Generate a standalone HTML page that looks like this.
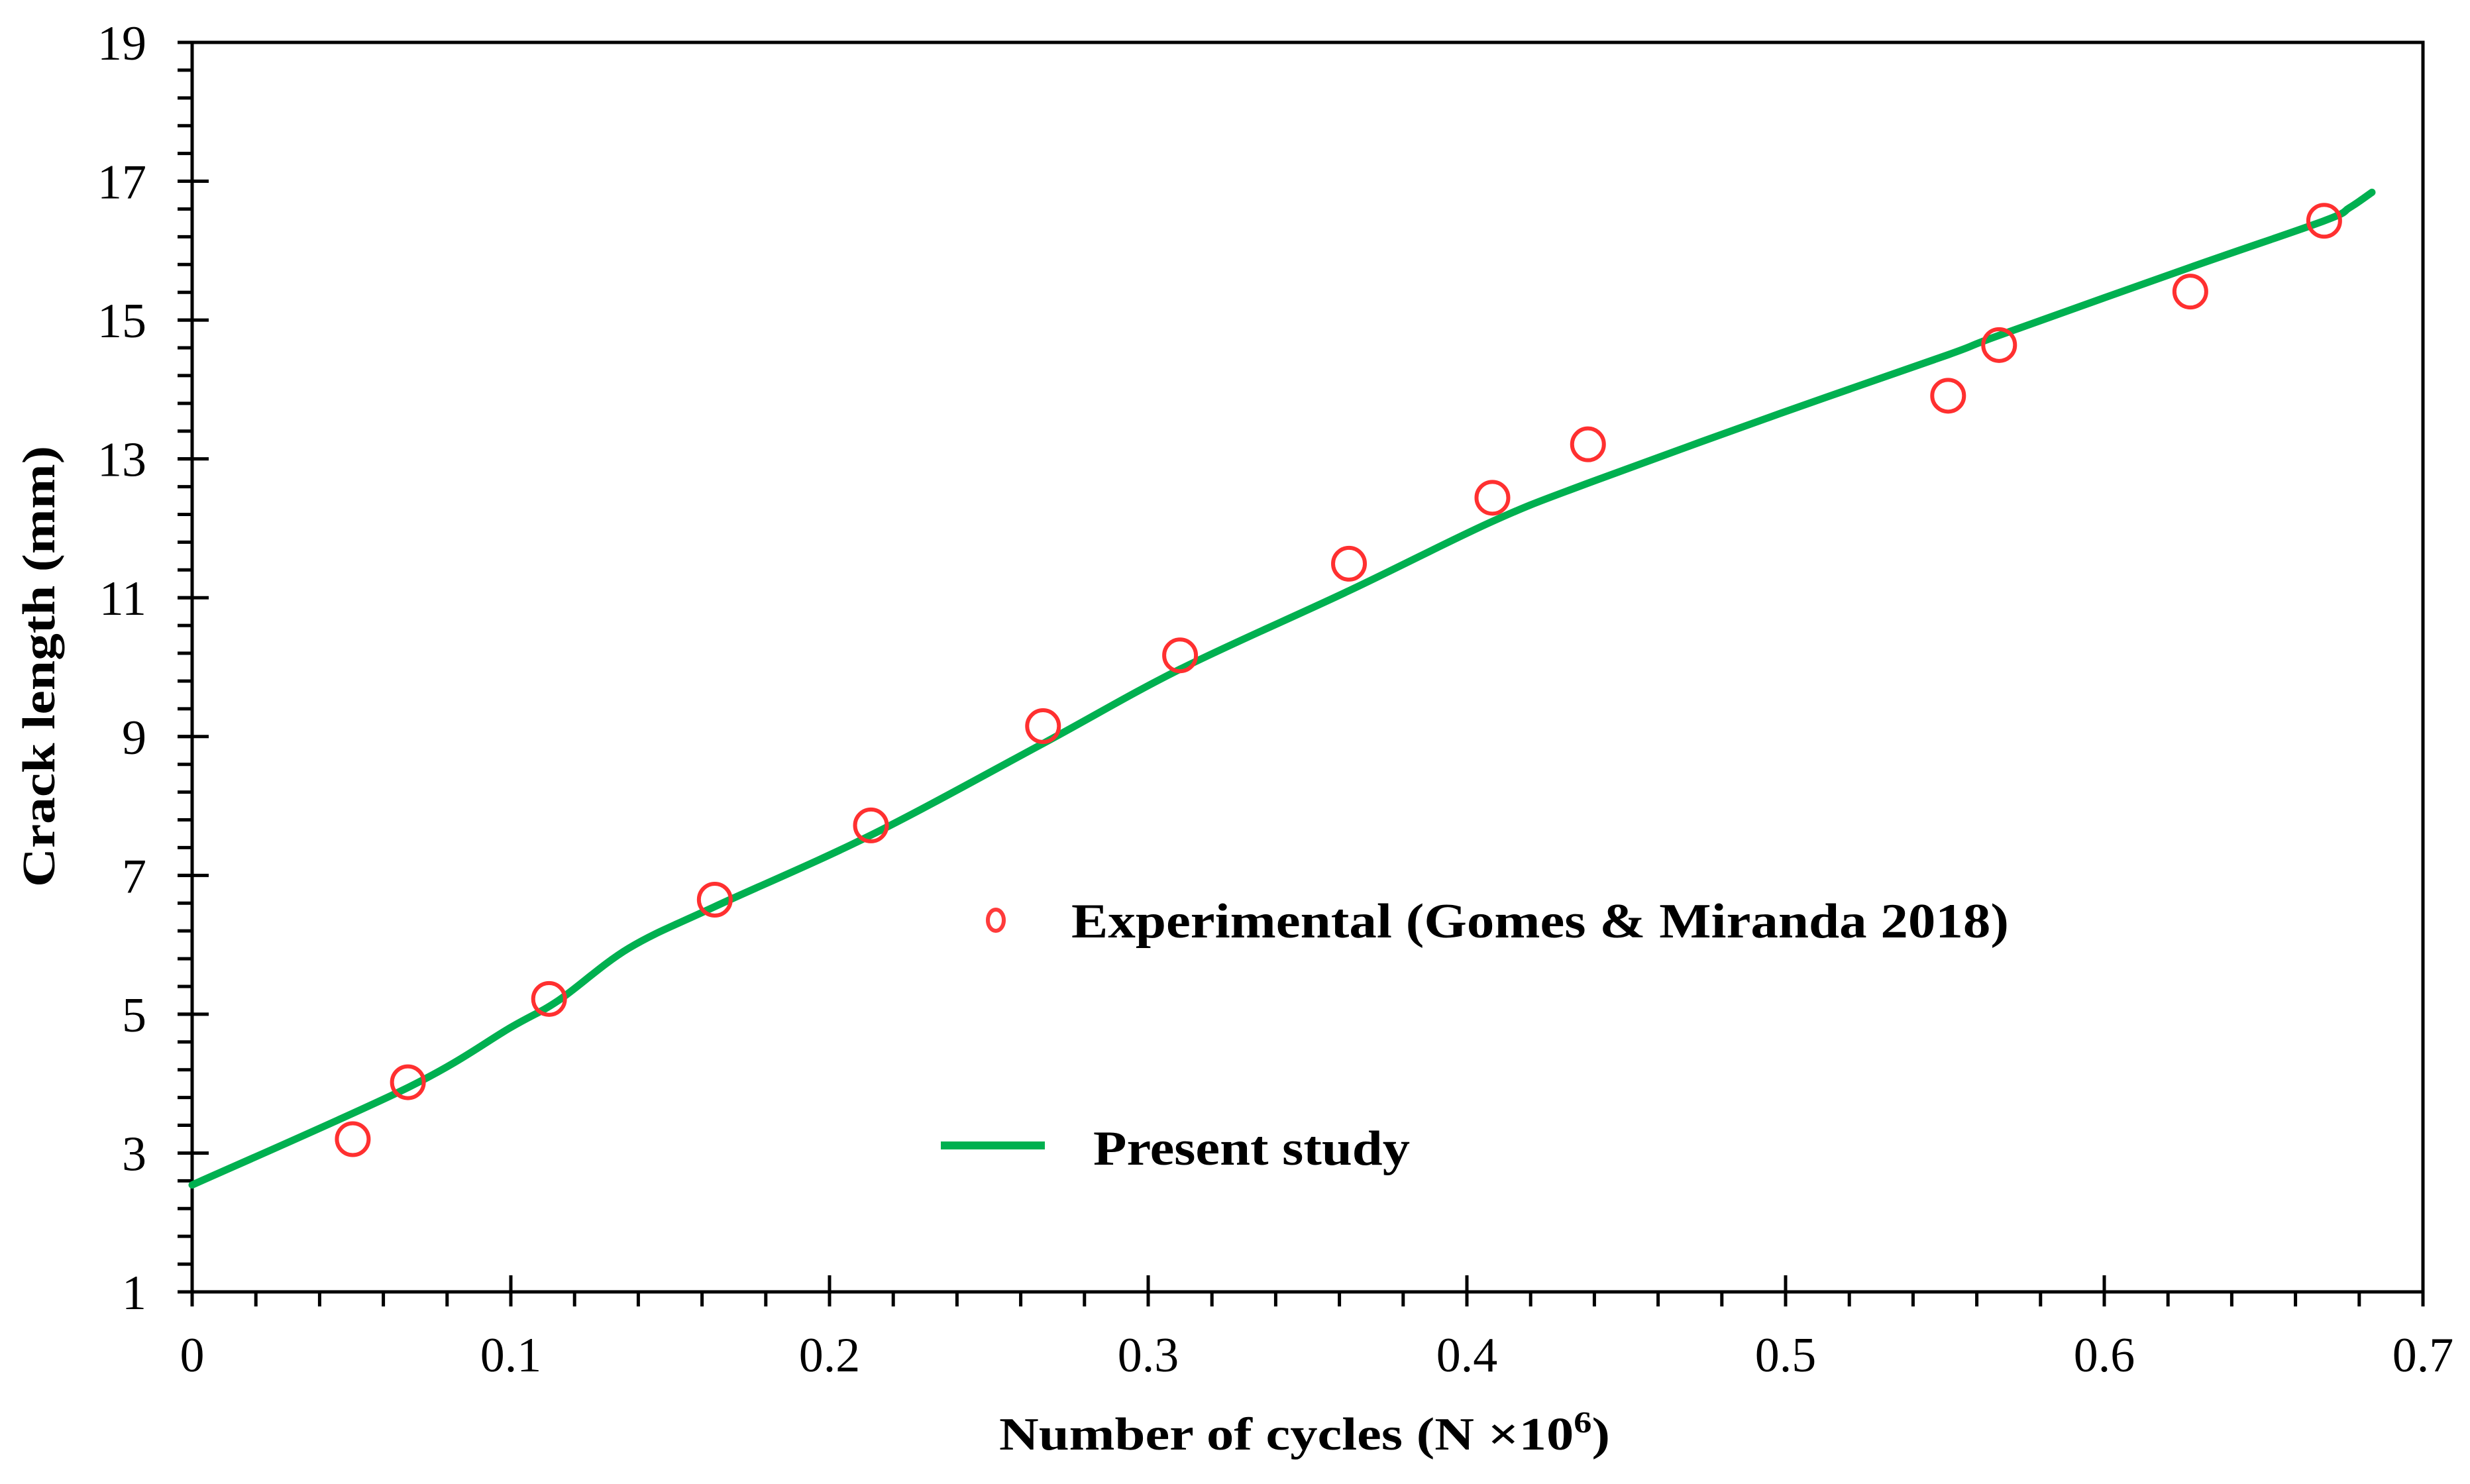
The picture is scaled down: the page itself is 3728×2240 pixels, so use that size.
<!DOCTYPE html>
<html><head><meta charset="utf-8"><style>html,body{margin:0;padding:0;background:#fff}svg{display:block}</style></head>
<body>
<svg id="chart" width="3728" height="2240" viewBox="0 0 3728 2240" xmlns="http://www.w3.org/2000/svg" font-family="'Liberation Serif', serif">
<g id="axes"></g>
<g id="series"></g>
<g>
  <ellipse cx="1503" cy="1389" rx="12" ry="16" fill="none" stroke="#ff3b3b" stroke-width="6"/>
  <text x="1617" y="1415" font-size="74" font-weight="bold" textLength="1415" lengthAdjust="spacingAndGlyphs">Experimental (Gomes &amp; Miranda 2018)</text>
  <line x1="1420" y1="1729" x2="1577" y2="1729" stroke="#00b050" stroke-width="12"/>
  <text x="1650" y="1758" font-size="74" font-weight="bold" textLength="478" lengthAdjust="spacingAndGlyphs">Present study</text>
</g>
<text x="1508" y="2188" font-size="70" font-weight="bold" textLength="922" lengthAdjust="spacingAndGlyphs">Number of cycles (N ×10<tspan dy="-26" font-size="46">6</tspan><tspan dy="26">)</tspan></text>
<text transform="translate(82,1006) rotate(-90)" text-anchor="middle" font-size="70" font-weight="bold" textLength="666" lengthAdjust="spacingAndGlyphs">Crack length (mm)</text>
</svg>
<script>
const xTicks = [0, 0.1, 0.2, 0.3, 0.4, 0.5, 0.6, 0.7];
const xTickLabels = ["0", "0.1", "0.2", "0.3", "0.4", "0.5", "0.6", "0.7"];
const yTicks = [1, 3, 5, 7, 9, 11, 13, 15, 17, 19];
const yTickLabels = ["1", "3", "5", "7", "9", "11", "13", "15", "17", "19"];
const expX = [0.0504, 0.0677, 0.112, 0.164, 0.213, 0.267, 0.310, 0.363, 0.408, 0.438, 0.551, 0.567, 0.627, 0.669];
const expY = [3.2, 4.02, 5.22, 6.65, 7.72, 9.15, 10.17, 11.49, 12.44, 13.21, 13.91, 14.64, 15.41, 16.43];
const studyX = [0, 0.068, 0.1, 0.115, 0.137, 0.164, 0.213, 0.267, 0.31, 0.363, 0.408, 0.438, 0.498, 0.551, 0.567, 0.627, 0.669, 0.677, 0.684];
const studyY = [2.54, 3.95, 4.81, 5.2, 5.95, 6.55, 7.58, 8.9, 9.97, 11.1, 12.1, 12.65, 13.65, 14.5, 14.78, 15.76, 16.43, 16.62, 16.84];

const L = 290, R = 3657, T = 64, B = 1950;
const xMin = 0, xMax = 0.7, yMin = 1, yMax = 19;
const sx = v => L + (v - xMin) / (xMax - xMin) * (R - L);
const sy = v => B - (v - yMin) / (yMax - yMin) * (B - T);
const NS = "http://www.w3.org/2000/svg";
const axes = document.getElementById('axes');
const series = document.getElementById('series');
function mk(tag, attrs, parent) {
  const e = document.createElementNS(NS, tag);
  for (const k in attrs) e.setAttribute(k, attrs[k]);
  parent.appendChild(e);
  return e;
}
const frame = mk('rect', {x: L, y: T, width: R - L, height: B - T, fill: 'none', stroke: '#000', 'stroke-width': 5}, axes);


for (let i = 0; i <= 35; i++) {
  const x = sx(xMin + i * 0.02);
  const t = mk('line', {x1: x, y1: B, x2: x, y2: B + 22, stroke: '#000', 'stroke-width': 5}, axes);
  
  
}
for (let i = 0; i <= 45; i++) {
  const y = sy(yMin + i * 0.4);
  const t = mk('line', {x1: L - 22, y1: y, x2: L, y2: y, stroke: '#000', 'stroke-width': 5}, axes);
  
  
}
xTicks.forEach((v, i) => {
  const x = sx(v);
  const t = mk('line', {x1: x, y1: B - 25, x2: x, y2: B + 22, stroke: '#000', 'stroke-width': 5}, axes);
  
  
  const lb = mk('text', {x: x, y: 2070, 'text-anchor': 'middle', 'font-size': 74}, axes);
  lb.textContent = xTickLabels[i];
  
  
});
yTicks.forEach((v, i) => {
  const y = sy(v);
  const t = mk('line', {x1: L - 22, y1: y, x2: L + 25, y2: y, stroke: '#000', 'stroke-width': 5}, axes);
  
  
  const lb = mk('text', {x: 221, y: y + 26, 'text-anchor': 'end', 'font-size': 74}, axes);
  lb.textContent = yTickLabels[i];
  
  
});
const P = studyX.map((v, i) => [sx(v), sy(studyY[i])]);
let d = 'M' + P[0][0].toFixed(1) + ',' + P[0][1].toFixed(1);
for (let i = 0; i < P.length - 1; i++) {
  const p0 = P[Math.max(0, i - 1)], p1 = P[i], p2 = P[i + 1], p3 = P[Math.min(P.length - 1, i + 2)];
  const c1 = [p1[0] + (p2[0] - p0[0]) / 6, p1[1] + (p2[1] - p0[1]) / 6];
  const c2 = [p2[0] - (p3[0] - p1[0]) / 6, p2[1] - (p3[1] - p1[1]) / 6];
  d += ' C' + c1.map(n => n.toFixed(1)).join(',') + ' ' + c2.map(n => n.toFixed(1)).join(',') + ' ' + p2.map(n => n.toFixed(1)).join(',');
}
const line = mk('path', {d: d, fill: 'none', stroke: '#00b050', 'stroke-width': 11, 'stroke-linejoin': 'round', 'stroke-linecap': 'round'}, series);


expX.forEach((v, i) => {
  const c = mk('circle', {cx: sx(v), cy: sy(expY[i]), r: 24, fill: 'none', stroke: '#ff3030', 'stroke-width': 6}, series);
  
  
});
</script>
</body></html>
